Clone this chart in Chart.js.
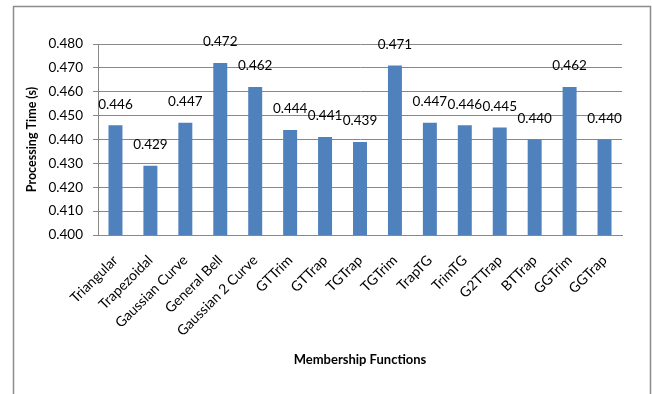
<!DOCTYPE html>
<html>
<head>
<meta charset="utf-8">
<script src="https://cdn.jsdelivr.net/npm/chart.js@4.4.1/dist/chart.umd.min.js"></script>
<style>
  html, body { margin: 0; padding: 0; background: #fff; }
  #wrap { position: relative; width: 652px; height: 394px; }
</style>
</head>
<body>
<div id="wrap"><canvas id="procChart" width="652" height="394"></canvas></div>
<script>
// Processing time per membership function
const categories = ['Triangular', 'Trapezoidal', 'Gaussian Curve', 'General Bell', 'Gaussian 2 Curve',
  'GTTrim', 'GTTrap', 'TGTrap', 'TGTrim', 'TrapTG', 'TrimTG', 'G2TTrap', 'BTTrap', 'GGTrim', 'GGTrap'];
const procTimes = [0.446, 0.429, 0.447, 0.472, 0.462, 0.444, 0.441, 0.439, 0.471, 0.447, 0.446, 0.445, 0.440, 0.462, 0.440];
const yMin = 0.400, yMax = 0.480, yStep = 0.010;

const FONT = 'Lato, "Liberation Sans", sans-serif';

// outer chart border, Excel style
const frame = {
  id: 'frame',
  beforeDraw(chart) {
    const c = chart.ctx;
    c.save();
    c.strokeStyle = '#8c8c8c';
    c.lineWidth = 1.5;
    c.strokeRect(13.5, 6.5, 637, 420);
    c.restore();
  }
};

// value labels above each bar
const barLabels = {
  id: 'barLabels',
  afterDatasetsDraw(chart) {
    const c = chart.ctx;
    const meta = chart.getDatasetMeta(0);
    c.save();
    c.font = '13.5px ' + FONT;
    c.fillStyle = '#000';
    c.textAlign = 'center';
    c.textBaseline = 'middle';
    meta.data.forEach((bar, i) => {
      c.fillText(procTimes[i].toFixed(3), bar.x, bar.y - 21);
    });
    c.restore();
  }
};

new Chart(document.getElementById('procChart').getContext('2d'), {
  type: 'bar',
  data: {
    labels: categories,
    datasets: [{
      data: procTimes,
      backgroundColor: '#4f81bd',
      borderWidth: 0,
      barPercentage: 0.40,
      categoryPercentage: 1.0
    }]
  },
  options: {
    responsive: false,
    animation: false,
    layout: { padding: { left: 14, right: 30, top: 44, bottom: 20 } },
    plugins: { legend: { display: false }, tooltip: { enabled: false } },
    scales: {
      x: {
        grid: { display: false, drawTicks: false },
        border: { color: '#888', width: 1 },
        ticks: {
          color: '#000', font: { family: FONT, size: 14 },
          autoSkip: false, maxRotation: 45, minRotation: 45, padding: 17
        },
        title: {
          display: true, text: 'Membership Functions', color: '#000',
          font: { family: FONT, size: 13, weight: 'bold' }, padding: { top: 0, bottom: 6 }
        },
        afterFit(s) { s.height = 394 - 20 - 235; }
      },
      y: {
        min: yMin, max: yMax,
        grid: { color: '#888', lineWidth: 1, tickLength: 5 },
        border: { color: '#888', width: 1 },
        ticks: {
          stepSize: yStep, color: '#000', font: { family: FONT, size: 13.5 }, padding: 10,
          callback: v => v.toFixed(3)
        },
        title: {
          display: true, text: 'Processing Time (s)', color: '#000',
          font: { family: FONT, size: 12.5, weight: 'bold' }, padding: { top: 10, bottom: 0 }
        },
        afterFit(s) { s.width = 84; }
      }
    }
  },
  plugins: [frame, barLabels]
});
</script>
</body>
</html>
